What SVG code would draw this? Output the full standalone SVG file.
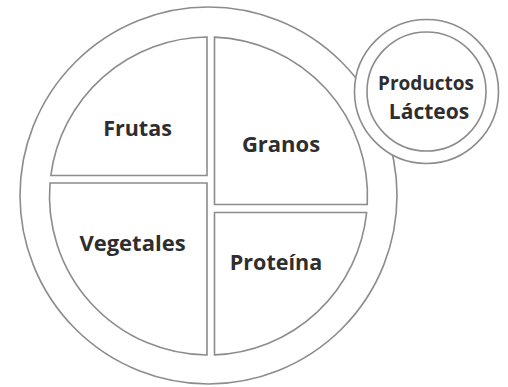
<svg xmlns="http://www.w3.org/2000/svg" width="508" height="387" viewBox="0 0 508 387">
  <style>
    .ln { fill: #ffffff; stroke: #8c8c8c; stroke-width: 1.6; }
    .lbl { font-family: "Open Sans", "Noto Sans", sans-serif; font-weight: 700; fill: #2e2e2e; text-anchor: middle; }
  </style>
  <rect width="508" height="387" fill="#ffffff"/>
  <g id="plate">
    <circle class="ln" cx="208.5" cy="195.5" r="188.5"/>
  </g>
  <g id="frutas">
    <path class="ln" d="M207,37.01 L207,175.5 L50.83,175.5 A159,159 0 0 1 207,37.01 Z"/>
    <text class="lbl" x="137.5" y="136" font-size="21.5">Frutas</text>
  </g>
  <g id="vegetales">
    <path class="ln" d="M50.03,183 L207,183 L207,354.99 A159,159 0 0 1 50.03,183 Z"/>
    <text class="lbl" x="132.5" y="251" font-size="22">Vegetales</text>
  </g>
  <g id="granos">
    <path class="ln" d="M214.5,37.11 A159,159 0 0 1 367.27,204.5 L214.5,204.5 Z"/>
    <text class="lbl" x="281" y="152" font-size="22">Granos</text>
  </g>
  <g id="proteina">
    <path class="ln" d="M214.5,212.5 L366.64,212.5 A159,159 0 0 1 214.5,354.89 Z"/>
    <text class="lbl" x="276" y="270" font-size="21.5">Proteína</text>
  </g>
  <g id="lacteos">
    <circle class="ln" cx="426.5" cy="91.5" r="72"/>
    <circle class="ln" cx="426.5" cy="91.5" r="59.5"/>
    <text class="lbl" x="426" y="90" font-size="19">Productos</text>
    <text class="lbl" x="429" y="119" font-size="21">Lácteos</text>
  </g>
  <g id="connectors"></g>
</svg>
